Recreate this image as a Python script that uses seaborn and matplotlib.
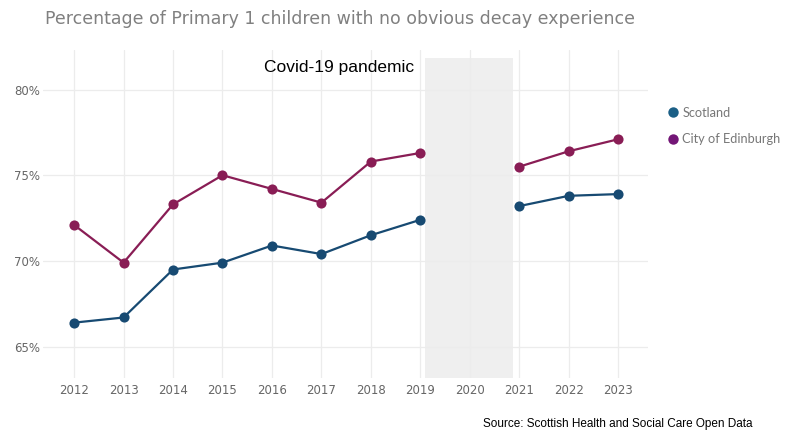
import numpy as np
import pandas as pd
import matplotlib.pyplot as plt
import seaborn as sns
from matplotlib.lines import Line2D

# data (no 2020 survey)
years = [2012, 2013, 2014, 2015, 2016, 2017, 2018, 2019, 2021, 2022, 2023]
scotland = [66.4, 66.7, 69.5, 69.9, 70.9, 70.4, 71.5, 72.4, 73.2, 73.8, 73.9]
edinburgh = [72.1, 69.9, 73.3, 75.0, 74.2, 73.4, 75.8, 76.3, 75.5, 76.4, 77.1]
areas = ["Scotland", "City of Edinburgh"]
tick_years = list(range(2012, 2024))
y_ticks = [65, 70, 75, 80]

line_cols = {"Scotland": "#174a72", "City of Edinburgh": "#891d55"}
legend_cols = {"Scotland": "#1b5f86", "City of Edinburgh": "#731676"}

df = pd.DataFrame({
    "year": years * 2,
    "pct": scotland + edinburgh,
    "area": ["Scotland"] * len(years) + ["City of Edinburgh"] * len(years),
})
# split before/after covid so the line has a gap
df["period"] = np.where(df["year"] < 2020, "pre", "post")

sns.set_style("white")
fig = plt.figure(figsize=(7.95, 4.32), dpi=100)
ax = fig.add_axes([0.054, 0.125, 0.761, 0.759])

# covid shading
ax.axvspan(2019.1, 2020.88, ymin=0, ymax=0.977, color="#efefef", zorder=0, lw=0)

sns.lineplot(data=df, x="year", y="pct", hue="area", palette=line_cols,
             units="period", estimator=None, marker="o", markersize=7.3,
             markeredgewidth=0, linewidth=1.6, legend=False, ax=ax, zorder=3)

ax.set_xlim(2011.37, 2023.6)
ax.set_ylim(63.17, 82.3)
ax.set_xticks(tick_years)
ax.set_yticks(y_ticks)
ax.set_yticklabels([f"{v}%" for v in y_ticks])
ax.tick_params(axis="both", length=0, labelsize=8.5, labelcolor="#666666")
ax.tick_params(axis="x", pad=4)
ax.tick_params(axis="y", pad=2)
ax.grid(True, color="#ececec", linewidth=0.9)
ax.set_axisbelow(True)
for s in ax.spines.values():
    s.set_visible(False)
ax.set_xlabel("")
ax.set_ylabel("")

ax.text(2017.35, 81.3, "Covid-19 pandemic", ha="center", va="center",
        fontsize=12.5, family="Liberation Sans", color="black")

fig.text(0.057, 0.956, "Percentage of Primary 1 children with no obvious decay experience",
         fontsize=12.5, color="#808080", ha="left", va="center")

handles = [Line2D([], [], marker="o", linestyle="", markersize=7.5,
                  markeredgewidth=0, color=legend_cols[a]) for a in areas]
leg = fig.legend(handles, areas, loc="upper left", bbox_to_anchor=(0.822, 0.78),
                 frameon=False, handletextpad=0.15, labelspacing=1.15,
                 handlelength=1.2, prop={"family": "Lato", "size": 9.2})
for t in leg.get_texts():
    t.set_color("#777777")

fig.text(0.946, 0.0185, "Source: Scottish Health and Social Care Open Data",
         ha="right", va="center", fontsize=8.5, family="Liberation Sans", color="black")

fig.savefig("out.png", dpi=100)
